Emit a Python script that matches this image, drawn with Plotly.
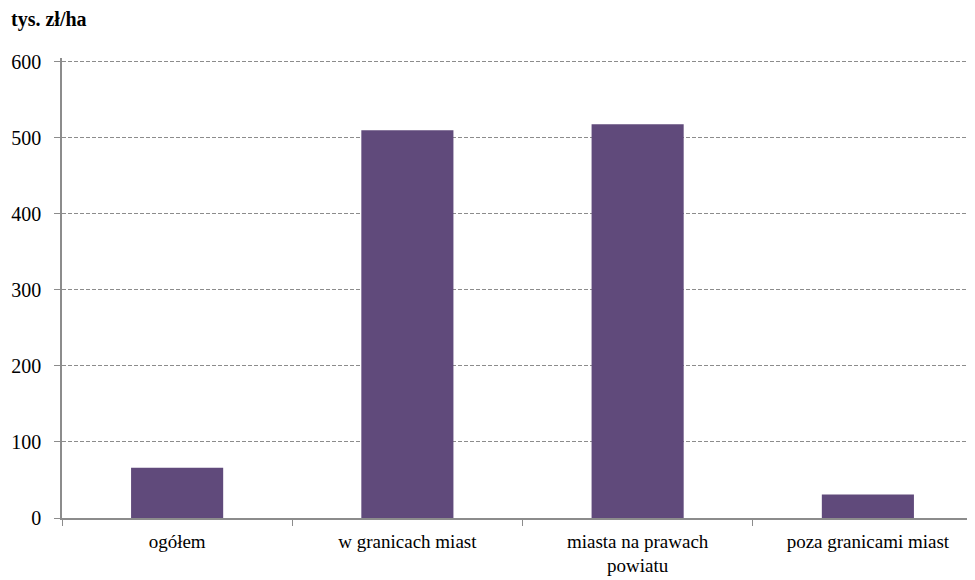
import plotly.graph_objects as go

categories = ['ogółem', 'w granicach miast', 'miasta na prawach<br>powiatu', 'poza granicami miast']
values = [66, 510, 518, 31]
y_ticks = [0, 100, 200, 300, 400, 500, 600]

SERIF = 'Times New Roman, Liberation Serif, serif'

fig = go.Figure()
fig.add_trace(go.Bar(x=categories, y=values, marker=dict(color='#604A7B', line=dict(width=0)), width=0.4))

fig.update_layout(
    width=975, height=580,
    margin=dict(l=54, r=0, t=50, b=70),
    plot_bgcolor='white', paper_bgcolor='white',
    font=dict(family=SERIF, size=20, color='black'), showlegend=False,
    annotations=[dict(text='<b>tys. zł/ha</b>', xref='paper', yref='paper', x=-0.058, y=1.083,
                      xanchor='left', yanchor='middle', showarrow=False,
                      font=dict(family=SERIF, size=20, color='black'))],
)
fig.update_xaxes(showline=True, linecolor='#8c8c8c', linewidth=1.5, ticks='outside', tickson='boundaries',
                 ticklen=6, tickcolor='#8c8c8c', showgrid=False, ticklabelstandoff=5,
                 tickfont=dict(family=SERIF, size=19))
fig.update_yaxes(range=[0, 605], tickvals=y_ticks, showline=True, linecolor='#8c8c8c', linewidth=1.5,
                 ticks='outside', ticklen=6, tickcolor='#8c8c8c', showgrid=True, gridcolor='#8c8c8c',
                 griddash='4px,2px', gridwidth=1, zeroline=False, ticklabelstandoff=9,
                 tickfont=dict(family=SERIF, size=20))

fig.write_html("out.html")
